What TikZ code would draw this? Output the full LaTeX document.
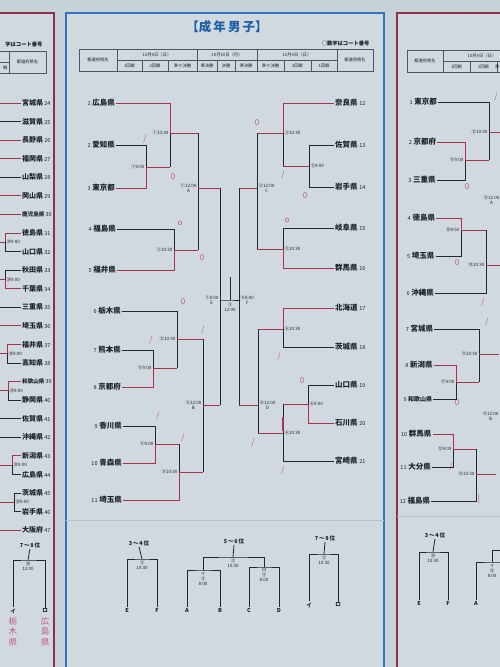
\documentclass[tikz,border=0pt]{standalone}
\usepackage{fontspec}
\setmainfont{Noto Sans CJK JP}
\usepackage{tikz}
\usetikzlibrary{positioning}

\definecolor{bgc}{HTML}{C7D1D8}
\definecolor{panelc}{HTML}{D0D9E0}
\definecolor{lineblack}{HTML}{24282D}
\definecolor{linered}{HTML}{A8324A}
\definecolor{penred}{HTML}{C45C7C}
\definecolor{tblline}{HTML}{4A5866}
\definecolor{edgeblue}{HTML}{2F76C0}
\definecolor{edgemaroon}{HTML}{8C2F48}
\definecolor{titleblue}{HTML}{1D5EA8}
\definecolor{ink}{HTML}{1E2228}
\definecolor{seamgray}{HTML}{B6C1C9}

\newcommand\nmb[1]{{\fontsize{5.5}{6}\selectfont\mdseries #1}}

\begin{document}
\begin{tikzpicture}[x=1pt, y=-1pt,
  bk/.style={draw=lineblack, line width=0.8pt},
  rd/.style={draw=linered, line width=0.8pt},
  tbl/.style={draw=tblline, line width=0.5pt},
  team/.style={font=\fontsize{7.5}{8}\selectfont\bfseries, text=ink, inner sep=1pt},
  slot/.style={font=\fontsize{4.5}{4.9}\selectfont, text=ink, inner sep=0.5pt, align=center},
  hdr/.style={font=\fontsize{4.3}{5}\selectfont, text=ink, inner sep=0pt},
  pen/.style={font=\fontsize{8}{8}\selectfont, text=penred, inner sep=0pt},
  rank/.style={font=\fontsize{5.5}{6}\selectfont\bfseries, text=ink, inner sep=1pt},
  seam/.style={draw=seamgray, line width=0.6pt},
]
\useasboundingbox (0,0) rectangle (500,667);
\fill[bgc] (0,0) rectangle (500,667);
\fill[panelc] (-5,13) rectangle (54,667);
\fill[panelc] (66,13) rectangle (384,667);
\fill[panelc] (397,13) rectangle (505,667);

% board edges
\draw[edgemaroon, line width=1.3pt] (-5,13) -- (54,13) -- (54,670);
\draw[edgeblue, line width=1.3pt] (66,670) -- (66,13) -- (384,13) -- (384,670);
\draw[edgemaroon, line width=1.3pt] (505,13) -- (397,13) -- (397,670);
\draw[seam] (66,520) -- (384,520);
\draw[seam] (397,516) -- (505,516);

% ---------------- centre panel ----------------
\node[font=\fontsize{12.5}{13}\selectfont\bfseries, text=titleblue] (title) at (227,27) {【成\,年\,男\,子】};
\node[font=\fontsize{5.3}{6}\selectfont\bfseries, text=ink, anchor=east] (note) at (373,43) {○数字はコート番号};

\draw[tbl] (79,49) rectangle (373,71);
\draw[tbl] (117,49) -- (117,71) (337,49) -- (337,71) (117,60) -- (337,60);
\draw[tbl] (197,49) -- (197,60) (257,49) -- (257,60);
\foreach \x in {142,168,197,217,235,257,284,311}
  \draw[tbl] (\x,60) -- (\x,71);
\node[hdr] (h0) at (98,60) {都道府県名};
\node[hdr] (h1) at (355,60) {都道府県名};
\node[hdr] (d1) at (157,54.5) {10月9日（日）};
\node[hdr] (d2) at (227,54.5) {10月10日（月）};
\node[hdr] (d3) at (297,54.5) {10月9日（日）};
\foreach \x/\l [count=\k] in {129.5/1回戦, 155/2回戦, 182.5/準々決勝, 207/準決勝, 226/決勝, 246/準決勝, 270.5/準々決勝, 297.5/2回戦, 324/1回戦}
  \node[hdr] (c\k) at (\x,65.5) {\l};

% teams
\foreach \i/\nm/\xx/\yy in {1/広島県/116/103, 2/愛知県/116/145, 3/東京都/116/188, 4/福島県/117/229, 5/福井県/117/270, 6/栃木県/122/311, 7/熊本県/122/350, 8/京都府/122/387, 9/香川県/123/426, 10/青森県/123/463, 11/埼玉県/123/500}
  \node[team, anchor=east] (t\i) at (\xx,\yy) {\nmb{\i}\ \nm};
\foreach \i/\nm/\yy in {12/奈良県/103, 13/佐賀県/145, 14/岩手県/187, 15/岐阜県/228, 16/群馬県/268, 17/北海道/308, 18/茨城県/347, 19/山口県/385, 20/石川県/423, 21/宮崎県/461}
  \node[team, anchor=west] (t\i) at (334,\yy) {\nm\ \nmb{\i}};

% match points
\coordinate (m1) at (146,167);
\coordinate (m2) at (170,133);
\coordinate (m3) at (174,250);
\coordinate (mA) at (198,188);
\coordinate (m4) at (153,368);
\coordinate (m5) at (177,339);
\coordinate (m6) at (155,444);
\coordinate (m7) at (179,472);
\coordinate (mB) at (203,405);
\coordinate (mE) at (220,300);
\coordinate (fin) at (230,300);
\coordinate (fintop) at (230,277);
\coordinate (mF) at (239,300);
\coordinate (mC) at (257,188);
\coordinate (m9) at (283,133);
\coordinate (m8) at (309,166);
\coordinate (m10) at (283,249);
\coordinate (mD) at (258,405);
\coordinate (m11) at (283,329);
\coordinate (m12) at (308,404);
\coordinate (m13) at (283,433);

% left half
\draw[rd] (t1.east) -| (m2);
\draw[bk] (t2.east) -| (m1);
\draw[rd] (t3.east) -| (m1);
\draw[rd] (m1) -- (m1 -| m2); \draw[bk] (m1 -| m2) -- (m2);
\draw[bk] (t4.east) -| (m3);
\draw[rd] (t5.east) -| (m3);
\draw[rd] (m2) -- (m2 -| mA); \draw[bk] (m2 -| mA) -- (mA);
\draw[rd] (m3) -- (m3 -| mA); \draw[bk] (m3 -| mA) -- (mA);
\draw[bk] (t6.east) -| (m5);
\draw[bk] (t7.east) -| (m4);
\draw[rd] (t8.east) -| (m4);
\draw[rd] (m4) -- (m4 -| m5); \draw[bk] (m4 -| m5) -- (m5);
\draw[bk] (t9.east) -| (m6);
\draw[rd] (t10.east) -| (m6);
\draw[rd] (m6) -- (m6 -| m7); \draw[bk] (m6 -| m7) -- (m7);
\draw[rd] (t11.east) -| (m7);
\draw[rd] (m5) -- (m5 -| mB); \draw[bk] (m5 -| mB) -- (mB);
\draw[rd] (m7) -- (m7 -| mB); \draw[bk] (m7 -| mB) -- (mB);
\draw[rd] (mA) -- (mA -| mE); \draw[bk] (mA -| mE) -- (mE);
\draw[rd] (mB) -- (mB -| mE); \draw[bk] (mB -| mE) -- (mE);

% right half
\draw[rd] (t12.west) -| (m9);
\draw[bk] (t13.west) -| (m8);
\draw[bk] (t14.west) -| (m8);
\draw[rd] (m8) -- (m8 -| m9); \draw[bk] (m8 -| m9) -- (m9);
\draw[bk] (t15.west) -| (m10);
\draw[rd] (t16.west) -| (m10);
\draw[rd] (m9) -- (m9 -| mC); \draw[bk] (m9 -| mC) -- (mC);
\draw[rd] (m10) -- (m10 -| mC); \draw[bk] (m10 -| mC) -- (mC);
\draw[rd] (t17.west) -| (m11);
\draw[bk] (t18.west) -| (m11);
\draw[bk] (t19.west) -| (m12);
\draw[rd] (t20.west) -| (m12);
\draw[rd] (m12) -- (m12 -| m13); \draw[bk] (m12 -| m13) -- (m13);
\draw[bk] (t21.west) -| (m13);
\draw[rd, line width=2pt] (283,417) -- (283,431);
\draw[rd] (m11) -- (m11 -| mD); \draw[bk] (m11 -| mD) -- (mD);
\draw[rd] (m13) -- (m13 -| mD); \draw[bk] (m13 -| mD) -- (mD);
\draw[rd] (mC) -- (mC -| mF); \draw[bk] (mC -| mF) -- (mF);
\draw[rd] (mD) -- (mD -| mF); \draw[bk] (mD -| mF) -- (mF);

% final
\draw[bk] (mE) -- (fin) -- (mF);
\draw[bk] (fin) -- (fintop);

% court / time
\node[slot, left=1pt of m1] (s1) {①9:00};
\node[slot, left=1pt of m2] (s2) {①10:30};
\node[slot, left=1pt of m3] (s3) {②10:30};
\node[slot, left=1pt of mA] (sA) {①12:00\\A};
\node[slot, left=1pt of m4] (s4) {⑤9:00};
\node[slot, left=1pt of m5] (s5) {⑤10:30};
\node[slot, left=1pt of m6] (s6) {④9:00};
\node[slot, left=1pt of m7] (s7) {⑤10:30};
\node[slot, left=1pt of mB] (sB) {⑤12:00\\B};
\node[slot, left=1pt of mE] (sE) {①8:00\\E};
\node[slot, below=2pt of fin] (sfin) {③\\12:00};
\node[slot, right=1pt of mF] (sF) {④8:00\\F};
\node[slot, right=1pt of m8] (s8) {③9:00};
\node[slot, right=1pt of m9] (s9) {③10:30};
\node[slot, right=1pt of m10] (s10) {③10:30};
\node[slot, right=1pt of mC] (sC) {③12:00\\C};
\node[slot, right=1pt of m11] (s11) {⑥10:30};
\node[slot, right=1pt of m12] (s12) {⑥9:00};
\node[slot, right=1pt of m13] (s13) {⑥10:30};
\node[slot, right=1pt of mD] (sD) {⑥12:00\\D};

% hand-written scores
\foreach \x/\y/\s [count=\k] in {145/139/\slash, 173/177/0, 180/223/o, 202/258/0, 183/302/0, 151/340/\slash, 203/330/\slash, 158/416/\slash, 183/438/\slash, 257/123/0, 283/175/\slash, 305/196/0, 287/220/o, 279/357/\slash, 253/443/\slash, 302/381/0, 283/470/\slash, 467/187/0, 496/97/\slash, 457/263/0, 483/302/\slash, 487/322/\slash, 457/403/0, 451/467/\slash, 479/499/|}
  \node[pen] (pm\k) at (\x,\y) {\s};

% placings
\node[rank] (c34) at (139,543) {3\,～\,4\,位};
\coordinate (j34) at (142,559);
\node[rank] (nE) at (127,610) {E};
\node[rank] (nF) at (157,610) {F};
\draw[bk] (nE.north) |- (j34) -| (nF.north);
\draw[bk] (j34) -- (c34.south);
\node[slot, below=1pt of j34] (s34) {②\\10:30};

\node[rank] (c56) at (234,541) {5\,～\,6\,位};
\coordinate (j56) at (233,557);
\coordinate (jL) at (203,570);
\coordinate (jR) at (264,567);
\node[rank] (nA) at (187,610) {A};
\node[rank] (nB) at (220,610) {B};
\node[rank] (nC) at (249,610) {C};
\node[rank] (nD) at (279,610) {D};
\draw[bk] (jL) |- (j56) -| (jR);
\draw[bk] (j56) -- (c56.south);
\draw[bk] (nA.north) |- (jL) -| (nB.north);
\draw[bk] (nC.north) |- (jR) -| (nD.north);
\node[slot, below=1pt of j56] (s56) {③\\10:30};
\node[slot, below=1pt of jL] (sL) {イ\\③\\8:00};
\node[slot, below=1pt of jR] (sR) {ロ\\④\\8:00};

\node[rank] (c78) at (325,538) {7\,～\,8\,位};
\coordinate (j78) at (324,554);
\node[rank] (nI) at (309,605) {イ};
\node[rank] (nRo) at (338,605) {ロ};
\draw[bk] (nI.north) |- (j78) -| (nRo.north);
\draw[bk] (j78) -- (c78.south);
\node[slot, below=1pt of j78] (s78) {③\\10:30};

% ---------------- left panel ----------------
\node[font=\fontsize{5.3}{6}\selectfont\bfseries, text=ink, anchor=east] (lnote) at (46,44) {字はコート番号};
\draw[tbl] (-5,51) rectangle (46,73);
\draw[tbl] (9,51) -- (9,73) (-5,62) -- (9,62);
\node[hdr] (lh) at (27.5,62) {都道府県名};
\node[hdr, anchor=east] (lc) at (7.5,67.5) {戦};

\foreach \nm/\fs [count=\k from 24] in {宮城県/7, 滋賀県/7, 長野県/7, 福岡県/7, 山梨県/7, 岡山県/7, 鹿児島県/5.6, 徳島県/7, 山口県/7, 秋田県/7, 千葉県/7, 三重県/7, 埼玉県/7, 福井県/7, 高知県/7, 和歌山県/5.6, 静岡県/7, 佐賀県/7, 沖縄県/7, 新潟県/7, 広島県/7, 茨城県/7, 岩手県/7, 大阪府/7}
{
  \pgfmathsetmacro\yy{103+(\k-24)*18.57}
  \node[team, font=\fontsize{\fs}{\fs}\selectfont\bfseries, anchor=west] (L\k) at (21,\yy) {\nm\,\nmb{\k}};
}
\foreach \k/\c in {24/rd, 25/bk, 26/rd, 27/rd, 28/bk, 29/rd, 30/rd, 35/bk, 36/rd, 41/bk, 42/bk, 47/rd}
  \draw[\c] (L\k.west) -- ++(-25,0);
\foreach \a/\b/\vx/\ca/\cb in {31/32/5/rd/bk, 33/34/5/bk/rd, 37/38/7/rd/bk, 39/40/8/rd/bk, 43/44/12/rd/bk, 45/46/14/bk/bk}
{
  \path (L\a.west) -- (L\b.west) coordinate[pos=0.5] (h\a);
  \coordinate (j\a) at (\vx,0 |- h\a);
  \draw[\ca] (L\a.west) -| (j\a);
  \draw[\cb] (L\b.west) -| (j\a);
  \draw[rd] (j\a) -- ++(-25,0);
  \node[slot, right=1pt of j\a] (sl\a) {⑳9:00};
}

\node[rank] (cL78) at (30,545) {7\,～\,8\,位};
\coordinate (jL78) at (28,560);
\node[rank] (nLI) at (13,611) {イ};
\node[rank] (nLRo) at (45,611) {ロ};
\draw[bk] (nLI.north) |- (jL78) -| (nLRo.north);
\draw[bk] (jL78) -- (cL78.south);
\node[slot, below=1pt of jL78] (sL78) {⑳\\12:00};
\node[pen, font=\fontsize{8.5}{10.5}\selectfont, align=center, anchor=north] (wL1) at (13,617) {栃\\木\\県};
\node[pen, font=\fontsize{8.5}{10.5}\selectfont, align=center, anchor=north] (wL2) at (45,617) {広\\島\\県};

% ---------------- right panel ----------------
\draw[tbl] (407,50) rectangle (520,72);
\draw[tbl] (443,50) -- (443,72) (443,61) -- (520,61) (470,61) -- (470,72) (497,61) -- (497,72);
\node[hdr] (rh) at (425,61) {都道府県名};
\node[hdr] (rd1) at (482,55.5) {10月9日（日）};
\node[hdr] (rc1) at (456.5,66.5) {1回戦};
\node[hdr] (rc2) at (483.5,66.5) {2回戦};
\node[hdr, anchor=east] (rc3) at (499.5,66.5) {準};

\foreach \i/\nm/\yy/\fs in {1/東京都/102/7.5, 2/京都府/142/7.5, 3/三重県/180/7.5, 4/徳島県/218/7.5, 5/埼玉県/256/7.5, 6/沖縄県/293/7.5, 7/宮城県/329/7.5, 8/新潟県/365/7.5, 9/和歌山県/399/6, 10/群馬県/434/7.5, 11/大分県/467/7.5, 12/福島県/501/7.5}
{
  \pgfmathsetmacro\xx{438-(\i-1)*0.6}
  \node[team, font=\fontsize{\fs}{\fs}\selectfont\bfseries, anchor=east] (R\i) at (\xx,\yy) {\nmb{\i}\ \nm};
}
\coordinate (r1) at (465,160);
\coordinate (r2) at (489,132);
\coordinate (r3) at (461,230);
\coordinate (r4) at (486,265);
\coordinate (r5) at (456,382);
\coordinate (r6) at (479,354);
\coordinate (r7) at (453,449);
\coordinate (r8) at (476,474);
\draw[bk] (R1.east) -| (r2);
\draw[rd] (R2.east) -| (r1);
\draw[bk] (R3.east) -| (r1);
\draw[rd] (r1) -- (r1 -| r2); \draw[bk] (r1 -| r2) -- (r2);
\draw[rd] (r2) -- ++(20,0);
\draw[rd] (R4.east) -| (r3);
\draw[bk] (R5.east) -| (r3);
\draw[rd] (r3) -- (r3 -| r4); \draw[bk] (r3 -| r4) -- (r4);
\draw[bk] (R6.east) -| (r4);
\draw[rd] (r4) -- ++(20,0);
\draw[bk] (R7.east) -| (r6);
\draw[rd] (R8.east) -| (r5);
\draw[bk] (R9.east) -| (r5);
\draw[rd] (r5) -- (r5 -| r6); \draw[bk] (r5 -| r6) -- (r6);
\draw[rd] (r6) -- ++(20,0);
\draw[rd] (R10.east) -| (r7);
\draw[bk] (R11.east) -| (r7);
\draw[rd] (r7) -- (r7 -| r8); \draw[bk] (r7 -| r8) -- (r8);
\draw[bk] (R12.east) -| (r8);
\draw[rd] (r8) -- ++(20,0);
\node[slot, left=1pt of r1] (sr1) {⑨9:00};
\node[slot, left=1pt of r2] (sr2) {⑨10:30};
\node[slot, left=1pt of r3] (sr3) {⑩9:50};
\node[slot, left=1pt of r4] (sr4) {⑩10:30};
\node[slot, left=1pt of r5] (sr5) {⑪9:00};
\node[slot, left=1pt of r6] (sr6) {⑪10:30};
\node[slot, left=1pt of r7] (sr7) {⑫9:00};
\node[slot, left=1pt of r8] (sr8) {⑫10:30};
\node[slot, anchor=east] (srA) at (500,200) {⑨12:00\\A};
\node[slot, anchor=west] (srB) at (482,416) {⑪12:00\\B};

\node[rank] (cR34) at (435,535) {3\,～\,4\,位};
\coordinate (jR34) at (433,552);
\node[rank] (nRE) at (419,603) {E};
\node[rank] (nRF) at (448,603) {F};
\draw[bk] (nRE.north) |- (jR34) -| (nRF.north);
\draw[bk] (jR34) -- (cR34.south);
\node[slot, below=1pt of jR34] (sR34) {⑳\\10:30};
\coordinate (jRA) at (492,562);
\node[rank] (nRA) at (476,603) {A};
\draw[bk] (nRA.north) |- (jRA) -- ++(20,0);
\draw[bk] (jRA) |- (510,550);
\node[slot, below=1pt of jRA] (sRA) {イ\\⑬\\8:00};
\end{tikzpicture}
\end{document}
